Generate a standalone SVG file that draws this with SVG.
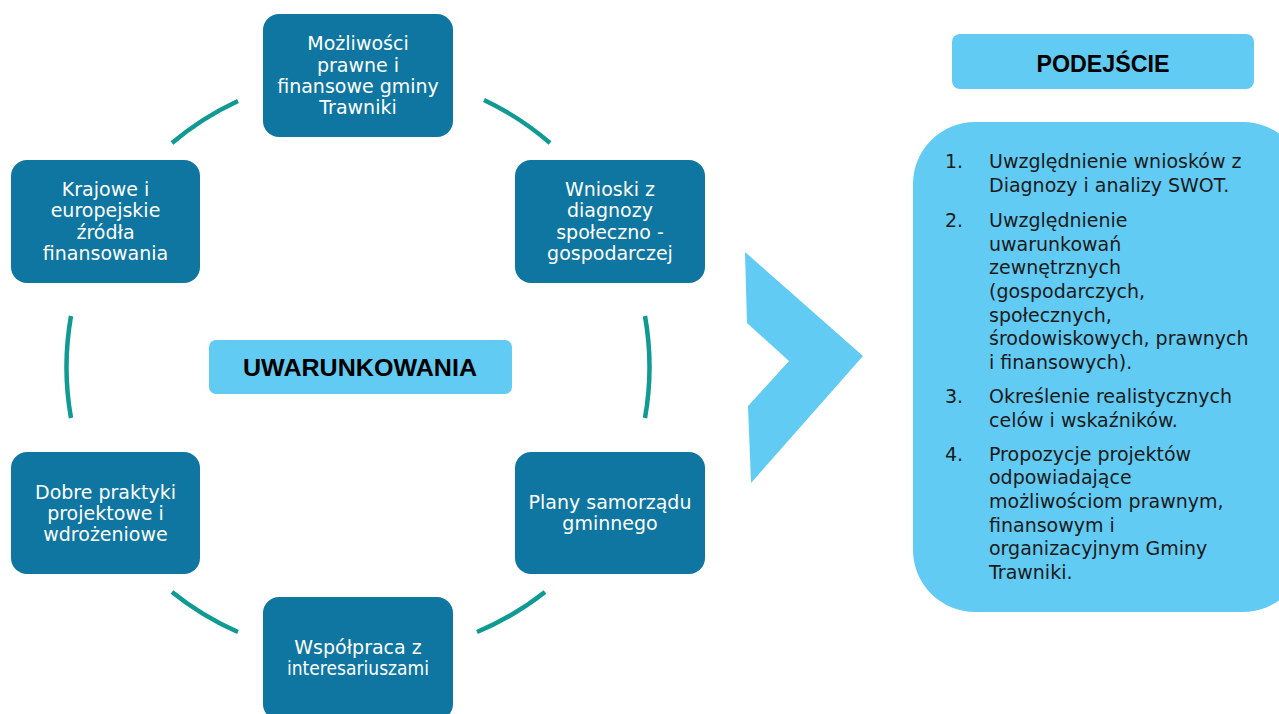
<svg xmlns="http://www.w3.org/2000/svg" width="1279" height="714" viewBox="0 0 1279 714">
<style>
.node{fill:#0e76a0;}
.nt{font-family:"DejaVu Sans","Liberation Sans",sans-serif;font-size:19px;fill:#ffffff;text-anchor:middle;}
.arc{fill:none;stroke:#109a94;stroke-width:4.5;}
.lb{fill:#61cbf3;}
.lt{font-family:"DejaVu Sans","Liberation Sans",sans-serif;font-size:19px;fill:#1a1a1a;}
.hd{font-family:"Liberation Sans",Arial,sans-serif;font-weight:bold;fill:#000000;text-anchor:middle;}
</style>
<rect width="1279" height="714" fill="#ffffff"/>
<g id="connectors">
<path class="arc" d="M172 143 A292 292 0 0 1 238 101"/>
<path class="arc" d="M484 100 A292 292 0 0 1 550 143"/>
<path class="arc" d="M645 316 A292 292 0 0 1 645 418"/>
<path class="arc" d="M545 592 A292 292 0 0 1 477 632"/>
<path class="arc" d="M238 632 A292 292 0 0 1 172 592"/>
<path class="arc" d="M71 418 A292 292 0 0 1 71 316"/>
</g>
<g id="node-top">
<rect class="node" x="263" y="14" width="190" height="123" rx="16"/>
<text class="nt" x="358" y="50">Możliwości</text>
<text class="nt" x="358" y="71.5">prawne i</text>
<text class="nt" x="358" y="92.5">finansowe gminy</text>
<text class="nt" x="358" y="113.5">Trawniki</text>
</g>
<g id="node-wnioski">
<rect class="node" x="515" y="160" width="190" height="123" rx="16"/>
<text class="nt" x="610" y="195.5">Wnioski z</text>
<text class="nt" x="610" y="217">diagnozy</text>
<text class="nt" x="610" y="238.5">społeczno -</text>
<text class="nt" x="610" y="260">gospodarczej</text>
</g>
<g id="node-plany">
<rect class="node" x="515" y="452" width="190" height="122" rx="16"/>
<text class="nt" x="610" y="508.5">Plany samorządu</text>
<text class="nt" x="610" y="529.5">gminnego</text>
</g>
<g id="node-wspolpraca">
<rect class="node" x="263" y="597" width="190" height="123" rx="16"/>
<text class="nt" x="358" y="653.5">Współpraca z</text>
<text class="nt" x="358" y="675" textLength="142" lengthAdjust="spacingAndGlyphs">interesariuszami</text>
</g>
<g id="node-dobre">
<rect class="node" x="11" y="452" width="189" height="122" rx="16"/>
<text class="nt" x="105.5" y="498.5">Dobre praktyki</text>
<text class="nt" x="105.5" y="519.5">projektowe i</text>
<text class="nt" x="105.5" y="540.5">wdrożeniowe</text>
</g>
<g id="node-krajowe">
<rect class="node" x="11" y="160" width="189" height="123" rx="16"/>
<text class="nt" x="105.5" y="195.5">Krajowe i</text>
<text class="nt" x="105.5" y="217">europejskie</text>
<text class="nt" x="105.5" y="238.5">źródła</text>
<text class="nt" x="105.5" y="260">finansowania</text>
</g>
<g id="node-center">
<rect class="lb" x="209" y="340" width="303" height="54" rx="7"/>
<text class="hd" x="360" y="376" font-size="24" textLength="234" lengthAdjust="spacingAndGlyphs">UWARUNKOWANIA</text>
</g>
<g id="chevron">
<polygon class="lb" points="745,252 863,356 751,483 748,406 789,361 747,323"/>
</g>
<g id="node-podejscie">
<rect class="lb" x="952" y="34" width="302" height="55" rx="8"/>
<text class="hd" x="1103" y="72" font-size="24" textLength="133" lengthAdjust="spacingAndGlyphs">PODEJŚCIE</text>
</g>
<g id="panel">
<rect class="lb" x="913" y="122" width="392" height="490" rx="62"/>
<text class="lt" x="945" y="168">1.</text>
<text class="lt" x="989" y="168">Uwzględnienie wniosków z</text>
<text class="lt" x="989" y="192">Diagnozy i analizy SWOT.</text>
<text class="lt" x="945" y="227">2.</text>
<text class="lt" x="989" y="227">Uwzględnienie</text>
<text class="lt" x="989" y="250.7">uwarunkowań</text>
<text class="lt" x="989" y="274.4">zewnętrznych</text>
<text class="lt" x="989" y="298">(gospodarczych,</text>
<text class="lt" x="989" y="321.7">społecznych,</text>
<text class="lt" x="989" y="345.4">środowiskowych, prawnych</text>
<text class="lt" x="989" y="369">i finansowych).</text>
<text class="lt" x="945" y="403">3.</text>
<text class="lt" x="989" y="403">Określenie realistycznych</text>
<text class="lt" x="989" y="426.7">celów i wskaźników.</text>
<text class="lt" x="945" y="460.7">4.</text>
<text class="lt" x="989" y="460.7">Propozycje projektów</text>
<text class="lt" x="989" y="484.4">odpowiadające</text>
<text class="lt" x="989" y="508">możliwościom prawnym,</text>
<text class="lt" x="989" y="531.7">finansowym i</text>
<text class="lt" x="989" y="555.4">organizacyjnym Gminy</text>
<text class="lt" x="989" y="579">Trawniki.</text>
</g>
</svg>
